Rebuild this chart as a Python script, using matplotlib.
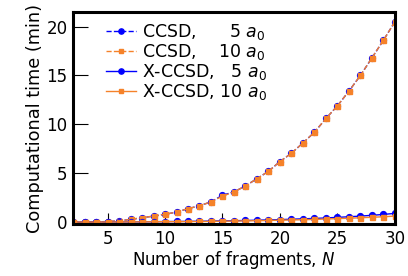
import matplotlib
matplotlib.use("Agg")
import matplotlib.pyplot as plt
import numpy as np

plt.rcParams['font.family'] = ['DejaVu Sans']
plt.rcParams['mathtext.fontset'] = 'dejavusans'

N = list(range(2, 31))
ccsd_5 = [0.0, 0.01, 0.03, 0.06, 0.13, 0.28, 0.45, 0.62, 0.8, 1.03, 1.38, 1.67, 2.08, 2.75, 3.1,
          3.7, 4.45, 5.2, 6.2, 7.05, 8.1, 9.2, 10.6, 11.9, 13.4, 15.0, 16.8, 18.6, 20.5]
ccsd_10 = [0.0, 0.01, 0.03, 0.06, 0.13, 0.28, 0.45, 0.62, 0.8, 1.03, 1.38, 1.67, 2.08, 2.65, 3.1,
           3.7, 4.45, 5.2, 6.2, 7.05, 8.1, 9.2, 10.6, 11.9, 13.4, 15.0, 16.8, 18.6, 20.5]
xccsd_5 = [0.01, 0.01, 0.02, 0.02, 0.03, 0.03, 0.04, 0.05, 0.06, 0.07, 0.08, 0.09, 0.11, 0.13, 0.15,
           0.17, 0.2, 0.23, 0.26, 0.3, 0.34, 0.38, 0.43, 0.49, 0.55, 0.62, 0.70, 0.79, 0.90]
xccsd_10 = [0.01, 0.01, 0.01, 0.02, 0.02, 0.03, 0.03, 0.04, 0.05, 0.05, 0.06, 0.07, 0.08, 0.1, 0.11,
            0.13, 0.15, 0.17, 0.2, 0.22, 0.25, 0.28, 0.32, 0.36, 0.4, 0.45, 0.5, 0.55, 0.62]

labels = ["CCSD,      5 $a_0$", "CCSD,    10 $a_0$", "X-CCSD,   5 $a_0$", "X-CCSD, 10 $a_0$"]
blue = "#0000ff"
orange = "#f5822a"

fig = plt.figure(figsize=(4.08, 2.76), dpi=100)
ax = fig.add_axes([0.179, 0.188, 0.789, 0.769])

ax.plot(N, ccsd_5, ls='--', color=blue, marker='o', ms=4.2, lw=1.0, label=labels[0])
ax.plot(N, ccsd_10, ls='--', color=orange, marker='s', ms=3.6, lw=1.0, label=labels[1])
ax.plot(N, xccsd_5, ls='-', color=blue, marker='o', ms=4.2, lw=1.0, label=labels[2])
ax.plot(N, xccsd_10, ls='-', color=orange, marker='s', ms=3.6, lw=1.0, label=labels[3])

ax.set_xlim(2, 30)
ax.set_ylim(-0.2, 21.5)
ax.set_xticks([5, 10, 15, 20, 25, 30])
ax.set_yticks([0, 5, 10, 15, 20])
ax.tick_params(axis='both', direction='in', labelsize=12, width=0.8, pad=4)
ax.tick_params(axis='y', length=11)
ax.tick_params(axis='x', length=8)
for s in ax.spines.values():
    s.set_linewidth(2.2)

ax.set_xlabel("Number of fragments, $N$", fontsize=12, labelpad=1)
ax.set_ylabel("Computational time (min)", fontsize=12.8, labelpad=2)

ax.legend(loc='upper left', frameon=False, fontsize=12.5, handlelength=1.75,
          handletextpad=0.35, labelspacing=0.0, borderaxespad=0.0, markerscale=0.9,
          bbox_to_anchor=(0.08, 0.985))

fig.savefig("out.png", dpi=100)
